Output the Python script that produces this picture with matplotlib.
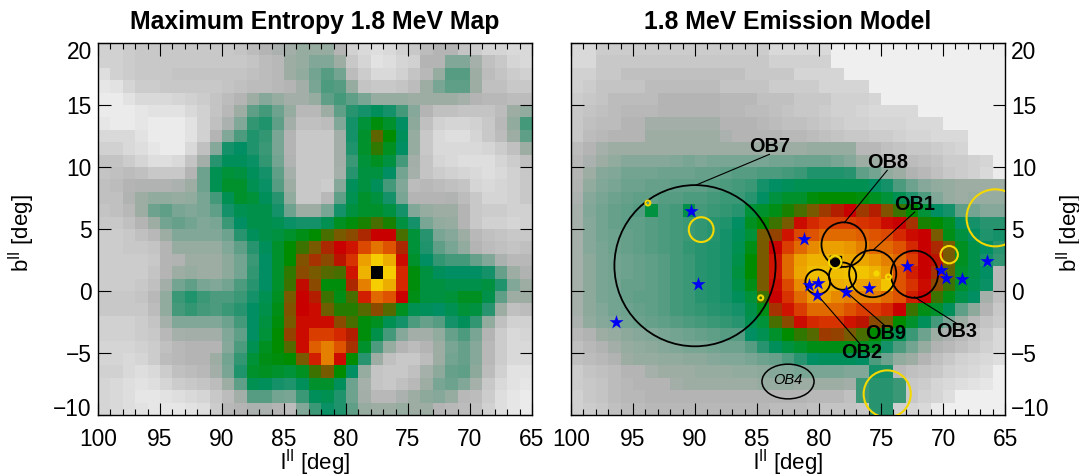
import numpy as np
import matplotlib
matplotlib.use("Agg")
import matplotlib.pyplot as plt
from matplotlib.colors import LinearSegmentedColormap
from matplotlib.patches import Circle, Ellipse
from matplotlib.ticker import MultipleLocator
from matplotlib.transforms import ScaledTranslation

plt.rcParams["font.family"] = ["Liberation Sans", "DejaVu Sans"]
plt.rcParams["mathtext.default"] = "regular"

# intensity per 1x1 deg cell, rows from b=19.5 down to b=-9.5, columns l=99.5 to 65.5
map_values = [
    [8,8,9,10,10,10,10,10,10,10,10,11,13,15,17,19,21,21,21,15,8,6,5,6,8,10,13,15,15,11,9,7,7,6,6],
    [8,8,9,10,10,10,10,10,10,10,10,10,11,13,14,20,21,25,25,20,10,7,4,5,7,8,15,15,25,25,18,12,10,7,6],
    [5,8,9,10,10,10,11,11,11,11,11,11,12,13,14,20,22,27,31,27,13,9,6,6,8,11,14,21,31,31,20,13,11,9,8],
    [3,4,7,9,9,10,10,10,10,10,11,12,13,13,14,15,19,26,32,31,21,11,10,10,11,13,20,26,30,30,20,12,12,10,10],
    [2,2,4,6,6,6,7,8,9,11,13,15,20,24,21,19,19,21,30,33,30,26,21,21,21,20,20,20,20,18,15,14,14,13,13],
    [2,2,2,3,4,4,4,6,8,11,14,20,30,33,28,21,14,14,20,30,36,38,41,38,33,24,15,12,12,11,11,11,13,20,22],
    [3,2,2,3,2,2,2,4,8,12,17,25,35,37,30,19,12,12,13,25,38,45,49,46,40,23,12,8,7,7,8,10,14,22,33],
    [6,6,6,4,2,2,2,4,8,15,25,32,37,35,26,15,10,10,10,19,38,46,58,50,41,21,10,6,5,5,7,10,13,20,30],
    [8,8,6,5,3,2,2,6,12,24,38,40,37,34,26,15,10,10,10,19,37,46,54,47,40,21,10,6,6,6,6,7,9,12,20],
    [11,11,9,7,5,5,6,11,19,36,41,41,39,35,27,16,10,10,10,19,34,45,47,44,33,19,11,7,6,5,5,5,7,9,12],
    [11,12,13,12,10,10,10,15,28,42,45,44,41,38,30,18,10,10,10,18,36,44,44,40,27,18,11,9,8,7,6,5,6,8,10],
    [12,13,15,16,16,16,17,20,28,42,46,46,42,39,31,20,10,10,9,24,41,44,41,33,25,13,14,13,12,11,7,6,7,8,10],
    [12,12,16,20,22,22,21,22,26,33,42,46,45,41,36,22,10,10,14,30,42,46,44,38,26,15,15,15,16,13,10,7,7,8,10],
    [11,12,14,20,28,30,26,25,26,30,38,42,43,43,38,28,20,20,26,38,44,46,46,44,38,25,21,20,20,15,10,9,9,8,8],
    [10,10,12,15,20,27,29,27,25,26,34,40,43,43,42,39,38,38,42,47,49,52,56,52,44,38,26,22,21,15,10,8,8,7,8],
    [9,9,10,12,14,20,25,25,25,25,28,36,41,43,44,46,48,50,56,60,62,66,70,70,56,45,36,26,24,20,14,12,11,10,10],
    [9,9,10,10,11,15,21,21,21,21,25,30,36,41,46,50,55,60,66,70,72,77,81,78,66,45,37,30,26,22,15,13,12,11,12],
    [9,9,9,9,10,15,16,20,20,20,23,27,34,40,46,50,61,65,62,68,75,85,95,87,71,46,40,35,33,33,29,25,17,14,14],
    [9,9,9,9,11,15,20,21,20,20,23,27,35,40,46,54,62,60,57,56,72,88,100,95,74,49,44,41,40,40,40,38,29,20,16],
    [9,9,9,10,12,19,27,30,26,25,27,32,36,40,46,55,69,62,49,49,66,82,95,87,74,49,44,44,43,43,43,44,37,25,20],
    [10,10,10,11,14,22,34,37,34,32,32,34,38,42,47,60,70,67,55,48,56,73,80,78,70,48,44,44,45,47,47,43,30,20,20],
    [10,10,10,10,13,22,33,35,33,32,34,36,40,43,48,61,70,71,59,53,53,57,62,57,47,42,41,40,42,45,44,36,20,12,13],
    [8,8,8,9,11,18,25,25,25,25,28,33,40,44,49,60,71,71,71,62,56,49,47,42,38,32,29,31,38,41,35,22,12,8,8],
    [8,8,8,9,10,14,18,19,19,19,25,30,40,45,50,63,71,76,76,74,67,49,43,33,24,19,19,22,29,32,26,15,9,6,7],
    [7,7,7,8,9,12,14,15,15,15,24,32,42,47,50,57,71,79,82,78,65,46,32,21,15,13,15,20,26,29,24,14,9,6,6],
    [7,7,6,7,9,13,14,15,15,20,27,35,45,48,49,50,60,73,82,71,50,36,20,12,10,10,13,20,27,29,24,14,9,6,6],
    [8,8,6,5,6,9,12,13,14,19,26,37,46,47,46,45,47,55,60,50,40,21,11,10,10,12,18,23,29,30,23,13,8,4,4],
    [7,6,5,4,5,7,9,10,11,13,20,30,42,41,38,37,41,46,46,41,28,18,11,10,12,14,20,26,28,25,18,10,6,4,3],
    [7,6,5,3,3,4,5,6,7,10,13,19,31,31,27,26,34,41,42,37,28,19,14,14,17,20,23,24,21,14,13,9,5,3,2],
    [7,6,5,4,3,3,3,4,5,9,14,15,17,17,15,13,25,34,39,37,30,21,20,20,21,20,20,15,14,13,12,8,5,3,2],
]

model_values = [
    [6,6,9,9,9,9,9,9,9,9,9,9,9,9,9,9,6,6,6,6,6,1,1,1,1,1,1,1,1,1,1,1,1,1,1],
    [6,6,10,10,10,10,10,10,10,10,10,10,10,10,10,10,8,8,8,8,8,1,1,1,1,1,1,1,1,1,1,1,1,1,1],
    [8,8,10,10,12,12,12,12,12,12,12,12,12,12,10,10,10,10,7,7,7,7,1,1,1,1,1,1,1,1,1,1,1,1,1],
    [8,9,11,11,11,11,13,13,13,13,13,13,11,11,11,11,9,9,9,9,7,7,7,7,1,1,1,1,1,1,1,1,1,1,1],
    [9,10,11,13,13,13,13,15,15,15,15,15,14,14,14,12,12,12,10,10,10,8,8,8,7,1,1,1,1,1,1,1,1,1,1],
    [10,11,12,13,14,14,14,15,15,15,15,15,14,14,13,13,12,11,10,10,9,8,8,7,6,6,6,6,1,1,1,1,1,1,1],
    [10,12,13,13,15,15,19,19,19,19,19,19,15,15,15,14,13,12,12,11,10,9,8,8,7,7,7,6,6,6,1,1,1,1,1],
    [10,13,14,15,15,15,20,20,20,20,20,20,17,15,15,15,15,14,14,13,12,11,10,10,9,9,8,7,7,6,6,6,1,1,1],
    [13,15,18,20,20,20,20,20,20,20,20,20,20,20,20,20,20,20,20,21,21,21,21,14,14,12,11,10,10,9,8,7,1,1,1],
    [14,17,20,22,24,24,24,24,25,26,25,26,26,26,26,26,27,27,28,28,28,26,24,20,20,14,14,13,12,11,9,9,8,7,1],
    [15,20,24,25,27,27,27,28,28,28,29,29,30,31,31,32,32,33,34,37,37,37,36,30,27,22,20,16,14,12,10,9,8,6,2],
    [16,22,25,26,28,28,29,29,30,30,30,31,32,33,34,38,40,41,42,42,42,42,42,42,40,38,32,28,24,22,21,20,20,20,20],
    [17,24,26,28,29,30,30,31,31,32,32,33,34,34,36,40,44,46,46,49,50,50,50,49,47,45,42,37,32,25,21,20,21,21,21],
    [18,25,27,29,30,31,44,32,33,43,33,34,35,36,45,46,48,52,56,60,64,67,70,64,67,61,55,50,45,40,38,30,27,24,24],
    [18,24,27,29,30,30,31,32,33,34,35,36,37,40,47,50,55,60,71,74,76,76,76,75,74,71,70,65,52,50,47,40,38,36,36],
    [18,24,27,28,29,30,31,32,33,34,35,36,38,41,45,60,63,72,77,78,80,80,80,79,78,77,74,71,70,60,48,44,40,37,38],
    [18,24,26,28,29,30,31,32,33,35,36,37,38,42,48,60,70,76,80,83,85,85,84,82,80,80,78,74,70,66,60,47,43,40,36],
    [18,23,26,27,28,29,30,31,33,34,36,37,38,43,50,60,72,80,85,88,88,88,86,86,84,82,80,76,70,68,60,47,43,38,35],
    [18,23,26,27,28,29,30,31,33,34,36,37,38,44,50,60,72,80,86,90,90,90,92,92,88,84,78,73,70,65,58,46,43,40,14],
    [18,23,26,27,29,29,30,31,33,34,36,37,38,43,48,60,71,77,83,87,88,87,88,85,85,92,78,75,71,62,55,46,42,39,14],
    [18,23,26,27,29,30,30,31,33,34,36,37,38,41,45,55,70,75,80,84,85,83,82,82,82,80,78,73,70,55,48,43,40,18,12],
    [18,23,25,27,28,29,30,31,33,34,35,36,37,38,43,48,65,72,76,80,80,80,78,76,76,74,70,55,48,46,41,30,23,15,10],
    [17,22,24,25,27,28,29,30,31,32,33,34,35,36,42,45,56,62,71,74,75,75,72,68,62,60,50,46,41,33,26,20,14,11,9],
    [14,16,20,21,23,24,25,26,27,28,29,30,31,31,40,42,46,50,54,57,64,63,60,56,50,46,42,34,28,20,17,14,11,9,6],
    [12,14,16,19,21,22,23,24,25,26,26,27,28,28,31,36,41,44,46,48,48,48,48,47,46,38,32,27,21,16,14,12,10,8,6],
    [12,13,14,16,20,21,21,22,22,23,23,24,25,25,26,28,29,32,36,40,41,41,41,40,32,28,22,20,15,12,10,8,7,6,5],
    [9,11,12,13,15,15,18,20,20,20,21,21,21,22,22,23,24,25,26,26,26,26,25,25,38,38,14,12,11,10,8,7,6,5,1],
    [9,10,11,13,14,15,15,15,19,20,20,20,20,20,20,21,21,21,20,20,20,20,19,34,36,36,34,10,9,7,6,5,4,3,1],
    [8,10,11,13,14,14,15,15,15,15,15,15,15,15,15,15,15,15,15,14,14,14,12,34,36,36,34,10,8,7,5,1,1,1,1],
    [8,9,10,12,13,13,14,14,14,14,14,14,14,14,14,14,13,13,13,12,11,11,11,10,36,36,8,7,6,2,1,1,1,1,1],
]

# colour scale anchors
scale_stops = [0, 10, 15, 20, 25, 30, 35, 40, 45, 50, 55, 60, 65, 70, 75, 80, 85, 90, 95, 99, 100]
scale_colors = ["#f3f3f3", "#c8c8c8", "#b4b4b4", "#9dada4", "#80a797", "#5f9e87", "#329672",
                "#008e62", "#009238", "#008c00", "#3c7300", "#785a00", "#a53200", "#c80000",
                "#d73200", "#e16900", "#eba000", "#f0be00", "#f5cd00", "#f5cd00", "#000000"]

# young stars (l, b)
star_l = [90.35, 81.18, 89.78, 96.4, 80.83, 80.11, 80.13, 77.8, 76.0, 72.93, 70.19, 69.76, 68.5, 66.45]
star_b = [6.45, 4.17, 0.59, -2.5, 0.46, 0.67, -0.35, -0.08, 0.27, 2.04, 1.72, 1.08, 0.97, 2.42]

# OB associations and their labels
ob_names = ["OB7", "OB8", "OB1", "OB3", "OB9", "OB2"]
ob_l = [90.0, 78.0, 75.67, 72.3, 78.1, 80.1]
ob_b = [2.04, 3.74, 1.4, 1.35, 1.2, 0.73]
ob_r = [6.5, 1.8, 1.9, 1.9, 1.1, 1.0]
label_l = [84.0, 74.5, 72.28, 68.87, 74.6, 76.6]
label_b = [11.67, 10.35, 6.94, -3.25, -3.39, -4.97]
line_l = [[89.97, 84.0], [74.5, 77.96], [72.28, 75.6], [68.87, 72.3], [74.62, 77.8], [76.6, 80.1]]
line_b = [[8.52, 11.02], [9.73, 5.51], [6.37, 3.33], [-2.63, -0.48], [-2.85, -0.08], [-4.38, -0.35]]

# yellow rings (l, b, r)
ring_l = [89.5, 69.5, 65.8, 74.5, 93.8, 84.7, 74.4, 78.7]
ring_b = [4.95, 2.93, 5.9, -8.3, 7.1, -0.55, 1.13, 2.34]
ring_r = [1.0, 0.7, 2.3, 1.9, 0.2, 0.2, 0.2, 0.5]

y_ticks = [-10, -5, 0, 5, 10, 15, 20]

W, H = 1079, 476
l_edges = np.arange(100, 64, -1)
b_edges = np.arange(20, -11, -1)

cmap = LinearSegmentedColormap.from_list(
    "al26", [(s / 100, c) for s, c in zip(scale_stops, scale_colors)], N=1024)


def setup_axes(left, title):
    ax = fig.add_axes([left / W, 1 - 415 / H, 434 / W, 372 / H])
    ax.set_xlim(100, 65)
    ax.set_ylim(-10, 20)
    ax.xaxis.set_major_locator(MultipleLocator(5))
    ax.xaxis.set_minor_locator(MultipleLocator(1))
    ax.set_yticks(y_ticks)
    ax.tick_params(which="major", direction="in", top=True, right=True, length=9, width=0.8, labelsize=16.4, pad=4.5)
    ax.tick_params(axis="x", which="major", pad=9)
    ax.tick_params(which="minor", direction="in", top=True, length=4.5, width=0.8)
    ax.set_xlabel("l$^{II}$ [deg]", fontsize=16, labelpad=-2.5)
    for spine in ax.spines.values():
        spine.set_linewidth(1.0)
    # end labels stay inside the axis height
    nudge = {20: -0.07, -10: 0.08}
    for tick, val in zip(ax.yaxis.get_major_ticks(), y_ticks):
        if val in nudge:
            shift = ScaledTranslation(0, nudge[val], fig.dpi_scale_trans)
            tick.label1.set_transform(tick.label1.get_transform() + shift)
            tick.label2.set_transform(tick.label2.get_transform() + shift)
    fig.text((left + 217) / W, 1 - 22 / H, title, fontsize=17.8, fontweight="bold", ha="center", va="center")
    return ax


fig = plt.figure(figsize=(W / 100, H / 100), dpi=100)

ax1 = setup_axes(98, "Maximum Entropy 1.8 MeV Map")
ax1.pcolormesh(l_edges, b_edges, np.array(map_values), cmap=cmap, vmin=0, vmax=100)
ax1.set_ylabel("b$^{II}$ [deg]", fontsize=16)
ax1.yaxis.set_label_coords(-0.14, 0.49)

ax2 = setup_axes(571, "1.8 MeV Emission Model")
ax2.pcolormesh(l_edges, b_edges, np.array(model_values), cmap=cmap, vmin=0, vmax=100)
ax2.tick_params(axis="y", which="major", labelleft=False, labelright=True)
ax2.yaxis.set_label_position("right")
ax2.set_ylabel("b$^{II}$ [deg]", fontsize=16)
ax2.yaxis.set_label_coords(1.113, 0.49)

# aspect is equal in pixels, so plain circles work
ax2.plot([79.1, 78.2, 78.2, 79.1, 79.1], [2.8, 2.8, 1.95, 1.95, 2.8], color="black", lw=1.0, zorder=5)
ax2.scatter([78.7], [2.34], s=38, color="black", zorder=5)

for l, b, r in zip(ob_l, ob_b, ob_r):
    ax2.add_patch(Circle((l, b), r, fill=False, ec="black", lw=1.3, zorder=5))
for xs, ys in zip(line_l, line_b):
    ax2.plot(xs, ys, color="black", lw=0.8, zorder=5)
for l, b, r in zip(ring_l, ring_b, ring_r):
    ax2.add_patch(Circle((l, b), r, fill=False, ec="#f5d800", lw=1.5, zorder=6))
ax2.scatter([75.4], [1.42], s=12, color="#f5d800", zorder=6)
for name, l, b in zip(ob_names, label_l, label_b):
    ax2.text(l, b, name, fontsize=14.3, fontweight="bold", ha="center", va="center", zorder=6)

ax2.add_patch(Ellipse((82.5, -7.3), 4.2, 2.8, fill=False, ec="black", lw=1.1, zorder=5))
ax2.text(82.5, -7.2, "OB4", fontsize=10.5, fontstyle="italic", ha="center", va="center", zorder=6)

ax2.scatter(star_l, star_b, marker="*", s=115, color="#0000f5", lw=0, zorder=7)

fig.savefig("out.png", dpi=100)
